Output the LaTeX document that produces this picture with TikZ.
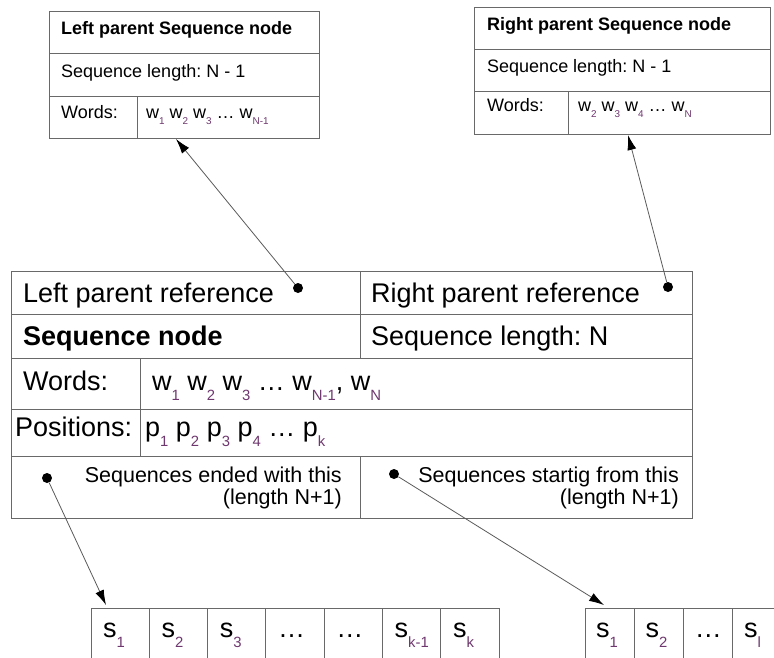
\documentclass[tikz,border=0pt]{standalone}
\usepackage{fontspec}
\setmainfont{Liberation Sans}
\usetikzlibrary{arrows.meta}
\definecolor{linec}{RGB}{105,105,105}
\definecolor{subc}{RGB}{110,55,110}
\definecolor{arrc}{RGB}{90,90,90}
\newcommand\sbx[1]{\raisebox{-0.38em}{\textcolor{subc}{\scalebox{0.55}{#1}}}}
\newcommand\fbig{\fontsize{27}{31}\selectfont}
\newcommand\fmid{\fontsize{21.5}{25}\selectfont}
\newcommand\fpar{\fontsize{18}{21}\selectfont}
\frenchspacing
\begin{document}
\begin{tikzpicture}[x=1pt,y=-1pt,
  cell/.style={draw=linec, line width=1pt, anchor=north west, inner sep=0pt, outer sep=0pt},
  txt/.style={anchor=base west, inner sep=0pt},
  rtxt/.style={anchor=base east, inner sep=0pt, align=right},
  dot/.style={circle, fill=black, minimum size=10pt, inner sep=0pt},
  link/.style={draw=arrc, line width=0.8pt, -{Latex[length=15pt,width=9pt,color=black]}}]
\useasboundingbox (0,0) rectangle (774,657);
\clip (0,0) rectangle (774,657);

% ---------- left parent ----------
\node[cell, minimum width=270pt, minimum height=42pt] (lp1) at (49,11) {};
\node[cell, minimum width=270pt, minimum height=43pt] (lp2) at (49,53) {};
\node[cell, minimum width=88pt, minimum height=42pt] (lp3a) at (49,96) {};
\node[cell, minimum width=182pt, minimum height=42pt] (lp3b) at (137,96) {};
\node[txt, font=\fpar\bfseries] (lpt1) at (61,34) {Left parent Sequence node};
\node[txt, font=\fpar] (lpt2) at (61,77) {Sequence length: N - 1};
\node[txt, font=\fpar] (lpt3) at (61,118) {Words:};
\node[txt, font=\fpar] (lpt4) at (146,118) {w\sbx{1} w\sbx{2} w\sbx{3} … w\sbx{N-1}};

% ---------- right parent ----------
\node[cell, minimum width=296pt, minimum height=42pt] (rp1) at (474,7) {};
\node[cell, minimum width=296pt, minimum height=42pt] (rp2) at (474,49) {};
\node[cell, minimum width=94pt, minimum height=43pt] (rp3a) at (474,91) {};
\node[cell, minimum width=202pt, minimum height=43pt] (rp3b) at (568,91) {};
\node[txt, font=\fpar\bfseries] (rpt1) at (487,30) {Right parent Sequence node};
\node[txt, font=\fpar] (rpt2) at (487,72) {Sequence length: N - 1};
\node[txt, font=\fpar] (rpt3) at (487,111) {Words:};
\node[txt, font=\fpar] (rpt4) at (578,111) {w\sbx{2} w\sbx{3} w\sbx{4} … w\sbx{N}};

% ---------- main node ----------
\node[cell, minimum width=349pt, minimum height=43pt] (m1a) at (11,271) {};
\node[cell, minimum width=332pt, minimum height=43pt] (m1b) at (360,271) {};
\node[cell, minimum width=349pt, minimum height=44pt] (m2a) at (11,314) {};
\node[cell, minimum width=332pt, minimum height=44pt] (m2b) at (360,314) {};
\node[cell, minimum width=129pt, minimum height=51pt] (m3a) at (11,358) {};
\node[cell, minimum width=552pt, minimum height=51pt] (m3b) at (140,358) {};
\node[cell, minimum width=129pt, minimum height=47pt] (m4a) at (11,409) {};
\node[cell, minimum width=552pt, minimum height=47pt] (m4b) at (140,409) {};
\node[cell, minimum width=349pt, minimum height=62pt] (m5a) at (11,456) {};
\node[cell, minimum width=332pt, minimum height=62pt] (m5b) at (360,456) {};

\node[txt, font=\fbig] (mt1) at (23,302) {Left parent reference};
\node[txt, font=\fbig] (mt2) at (371,302) {Right parent reference};
\node[txt, font=\fbig\bfseries] (mt3) at (23,345) {Sequence node};
\node[txt, font=\fbig] (mt4) at (371,345) {Sequence length: N};
\node[txt, font=\fbig] (mt5) at (23,390) {Words:};
\node[txt, font=\fbig] (mt6) at (152,390) {w\sbx{1} w\sbx{2} w\sbx{3} … w\sbx{N-1}, w\sbx{N}};
\node[txt, font=\fbig] (mt7) at (15,436) {Positions:};
\node[txt, font=\fbig] (mt8) at (145,436) {p\sbx{1} p\sbx{2} p\sbx{3} p\sbx{4} … p\sbx{k}};
\node[rtxt, font=\fmid] (mt9) at (342,482) {Sequences ended with this};
\node[rtxt, font=\fmid] (mt10) at (342,504) {(length N+1)};
\node[rtxt, font=\fmid] (mt11) at (679,482) {Sequences startig from this};
\node[rtxt, font=\fmid] (mt12) at (679,504) {(length N+1)};

% ---------- arrays ----------
\foreach \i/\t in {0/s\sbx{1},1/s\sbx{2},2/s\sbx{3},3/…,4/…,5/s\sbx{k-1},6/s\sbx{k}}{
  \node[cell, minimum width=58.3pt, minimum height=70pt] (la\i) at (91+58.3*\i,608) {};
  \node[txt, font=\fbig] (lat\i) at (103+58.3*\i,637) {\t};
}
\foreach \i/\t in {0/s\sbx{1},1/s\sbx{2},2/…,3/s\sbx{l}}{
  \node[cell, minimum width=49.3pt, minimum height=70pt] (ra\i) at (585+49.3*\i,608) {};
  \node[txt, font=\fbig] (rat\i) at (596+49.3*\i,637) {\t};
}

% ---------- dots and arrows ----------
\node[dot] (dlp) at (298,288) {};
\node[dot] (drp) at (668,287) {};
\node[dot] (dend) at (47,478) {};
\node[dot] (dstart) at (394,474) {};
\coordinate (tlp) at (176,139);
\coordinate (trp) at (628,135);
\coordinate (tend) at (106,605);
\coordinate (tstart) at (604,605);
\draw[link] (dlp) -- (tlp);
\draw[link] (drp) -- (trp);
\draw[link] (dend) -- (tend);
\draw[link] (dstart) -- (tstart);
\end{tikzpicture}
\end{document}
